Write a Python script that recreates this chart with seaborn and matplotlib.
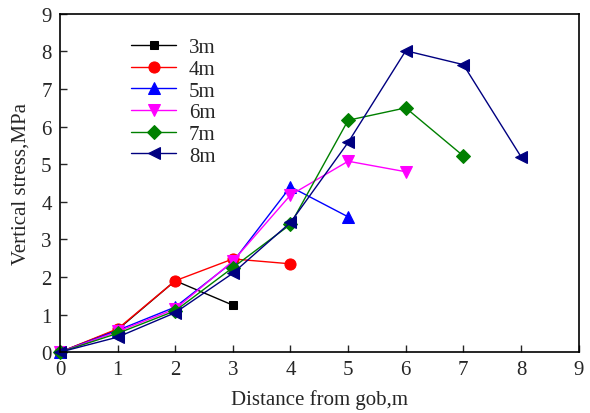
import matplotlib
matplotlib.use('Agg')
import matplotlib.pyplot as plt
import seaborn as sns
import pandas as pd

# Data
labels = ['3m', '4m', '5m', '6m', '7m', '8m']
s3 = [0, 0.60, 1.90, 1.25]
s4 = [0, 0.62, 1.90, 2.48, 2.35]
s5 = [0, 0.58, 1.20, 2.40, 4.40, 3.60]
s6 = [0, 0.55, 1.15, 2.42, 4.18, 5.08, 4.80]
s7 = [0, 0.50, 1.10, 2.25, 3.40, 6.17, 6.50, 5.22]
s8 = [0, 0.40, 1.05, 2.10, 3.45, 5.58, 8.02, 7.65, 5.20]
series = [s3, s4, s5, s6, s7, s8]

colors = ['black', 'red', 'blue', 'magenta', 'green', 'navy']
markers = ['s', 'o', '^', 'v', 'D', '<']
msizes = [6, 8, 8, 8, 7, 9]

sns.set_style('ticks')
plt.rcParams['font.family'] = ['Liberation Serif', 'DejaVu Serif']

fig = plt.figure(figsize=(5.9, 4.14), dpi=100)
ax = fig.add_axes([0.1017, 0.147, 0.879, 0.817])

for lab, vals, c, m, ms in zip(labels, series, colors, markers, msizes):
    df = pd.DataFrame({'x': range(len(vals)), 'y': vals})
    sns.lineplot(data=df, x='x', y='y', ax=ax, color=c, marker=m,
                 markersize=ms, markeredgecolor=c, linewidth=1,
                 label=lab, clip_on=False)

ax.set_xlim(0, 9)
ax.set_ylim(0, 9)
ax.set_xticks(range(10))
ax.set_yticks(range(10))
ax.tick_params(direction='in', labelsize=15, length=5, width=1,
               top=False, right=False, pad=6)
for sp in ax.spines.values():
    sp.set_linewidth(1.2)
    sp.set_color('black')

ax.set_xlabel('Distance from gob,m', fontsize=15, labelpad=7)
ax.set_ylabel('Vertical stress,MPa', fontsize=15, labelpad=8)

ax.legend(loc='upper left', bbox_to_anchor=(0.10, 0.985), frameon=False,
          fontsize=15, handlelength=2.2, labelspacing=0.1, handletextpad=0.6)

fig.savefig('out.png', dpi=100)
